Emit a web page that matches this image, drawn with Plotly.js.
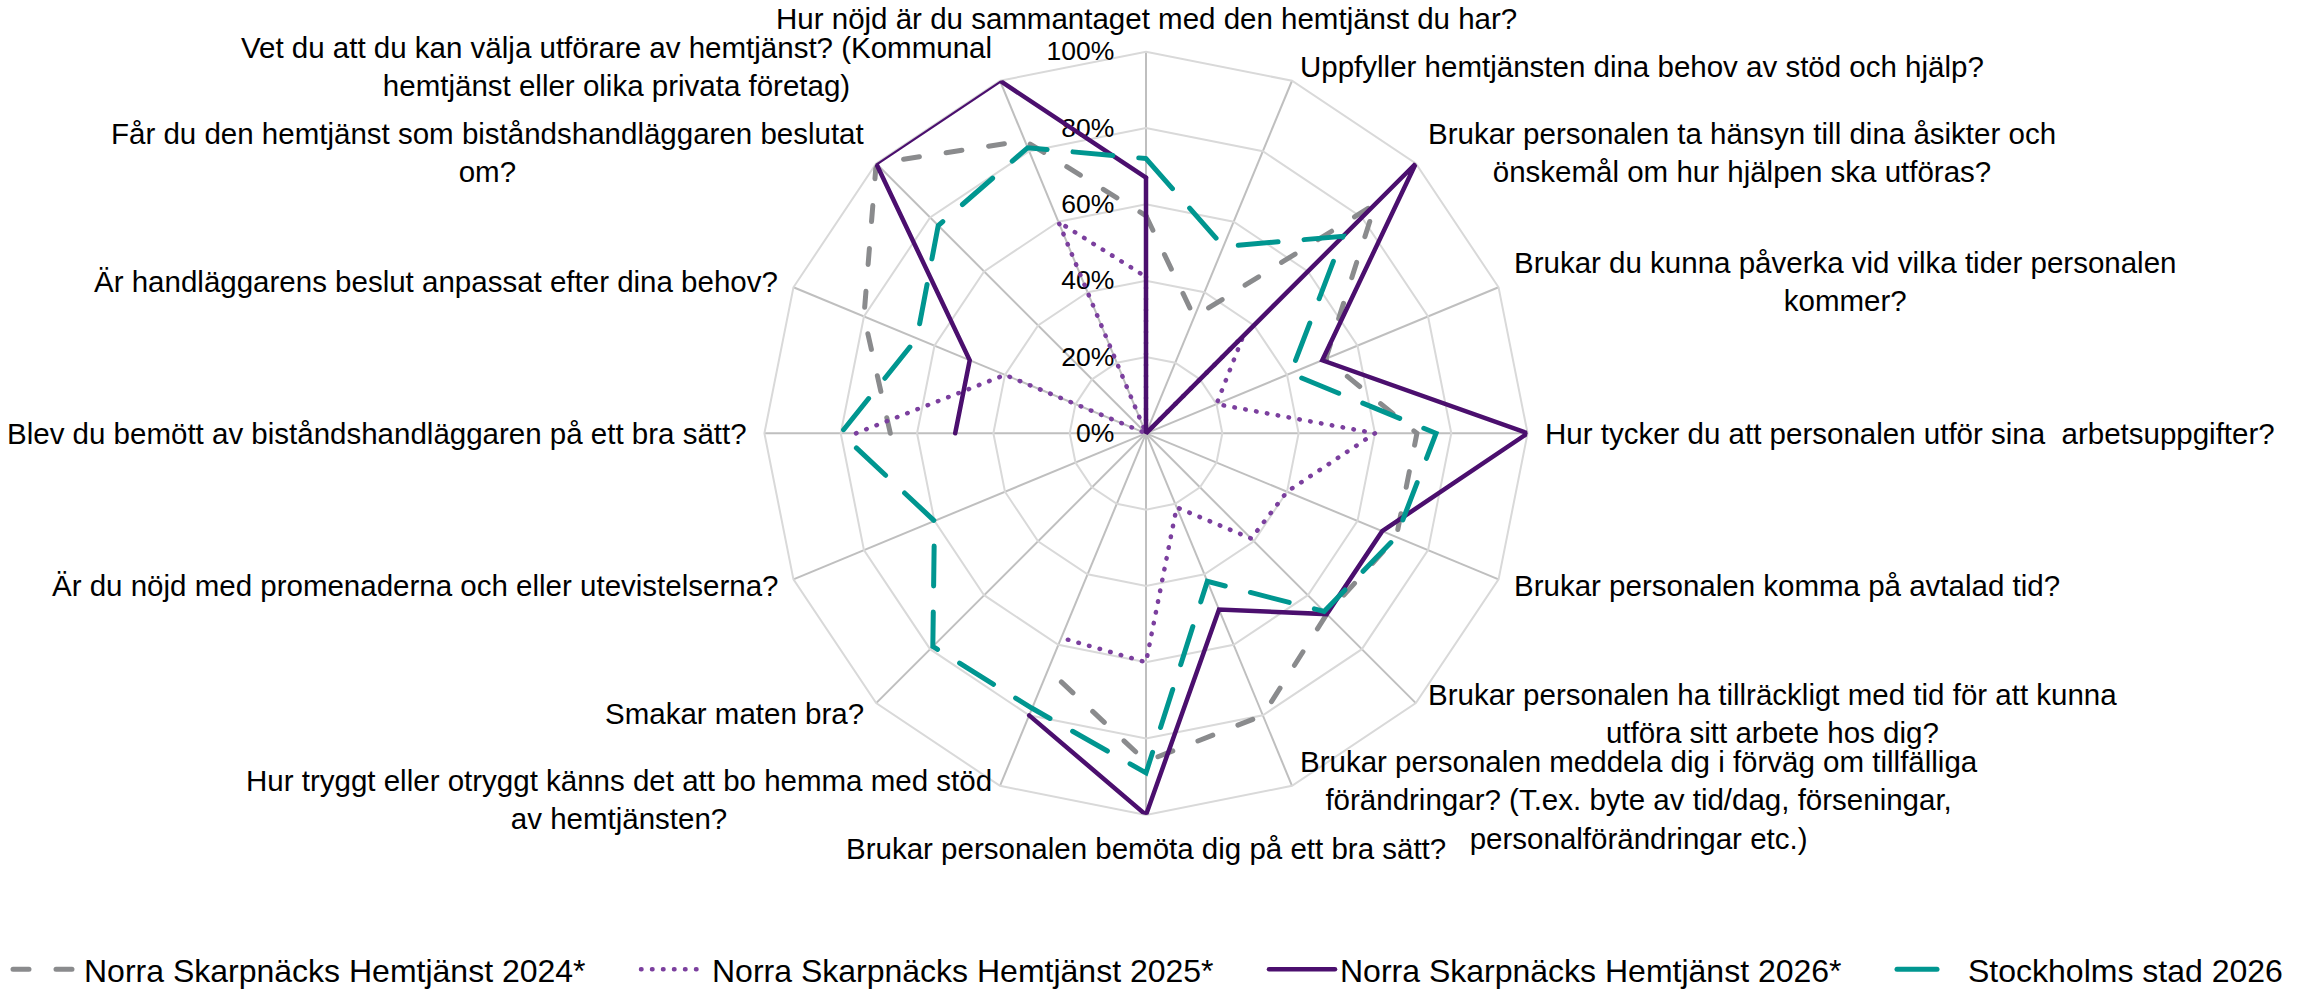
<!DOCTYPE html>
<html><head><meta charset="utf-8">
<script src="https://cdn.plot.ly/plotly-3.0.1.min.js"></script>
<style>
html,body{margin:0;padding:0;background:#fff;}
#chart{width:2303px;height:997px;}
.js-line{stroke-linecap:round;}
</style></head>
<body><div id="chart"></div>
<script>
const categories = [
  "Hur nöjd är du sammantaget med den hemtjänst du har?",
  "Uppfyller hemtjänsten dina behov av stöd och hjälp?",
  "Brukar personalen ta hänsyn till dina åsikter och önskemål om hur hjälpen ska utföras?",
  "Brukar du kunna påverka vid vilka tider personalen kommer?",
  "Hur tycker du att personalen utför sina  arbetsuppgifter?",
  "Brukar personalen komma på avtalad tid?",
  "Brukar personalen ha tillräckligt med tid för att kunna utföra sitt arbete hos dig?",
  "Brukar personalen meddela dig i förväg om tillfälliga förändringar? (T.ex. byte av tid/dag, förseningar, personalförändringar etc.)",
  "Brukar personalen bemöta dig på ett bra sätt?",
  "Hur tryggt eller otryggt känns det att bo hemma med stöd av hemtjänsten?",
  "Smakar maten bra?",
  "Är du nöjd med promenaderna och eller utevistelserna?",
  "Blev du bemött av biståndshandläggaren på ett bra sätt?",
  "Är handläggarens beslut anpassat efter dina behov?",
  "Får du den hemtjänst som biståndshandläggaren beslutat om?",
  "Vet du att du kan välja utförare av hemtjänst? (Kommunal hemtjänst eller olika privata företag)"
];
const tickLabels = [
  "Hur nöjd är du sammantaget med den hemtjänst du har?",
  "Uppfyller hemtjänsten dina behov av stöd och hjälp?",
  "Brukar personalen ta hänsyn till dina åsikter och<br>önskemål om hur hjälpen ska utföras?",
  "Brukar du kunna påverka vid vilka tider personalen<br>kommer?",
  "Hur tycker du att personalen utför sina\u00a0 arbetsuppgifter?",
  "Brukar personalen komma på avtalad tid?",
  "Brukar personalen ha tillräckligt med tid för att kunna<br>utföra sitt arbete hos dig?",
  "Brukar personalen meddela dig i förväg om tillfälliga<br>förändringar? (T.ex. byte av tid/dag, förseningar,<br>personalförändringar etc.)",
  "Brukar personalen bemöta dig på ett bra sätt?",
  "Hur tryggt eller otryggt känns det att bo hemma med stöd<br>av hemtjänsten?",
  "Smakar maten bra?",
  "Är du nöjd med promenaderna och eller utevistelserna?",
  "Blev du bemött av biståndshandläggaren på ett bra sätt?",
  "Är handläggarens beslut anpassat efter dina behov?",
  "Får du den hemtjänst som biståndshandläggaren beslutat<br>om?",
  "Vet du att du kan välja utförare av hemtjänst? (Kommunal<br>hemtjänst eller olika privata företag)"
];
const seriesNames = [
  "Norra Skarpnäcks Hemtjänst 2024*",
  "Norra Skarpnäcks Hemtjänst 2025*",
  "Norra Skarpnäcks Hemtjänst 2026*",
  "Stockholms stad 2026"
];
const values2024 = [57, 33, 85, 51, 71, 71, 67, 80, 86, 67, null, null, 67, 80, 100, 83];
const values2025 = [41, 0, 36, 20, 60, 40, 39, 21, 60, 58, null, null, 76, 40, 0, 60];
const values2026 = [67, 0, 100, 50, 100, 67, 67, 50, 100, 80, null, null, 50, 50, 100, 100];
const valuesStockholm = [72, 53, 73, 41, 76, 71, 66, 42, 89, 78, 79, 60, 80, 65, 77, 81];
const radialTicks = [0, 20, 40, 60, 80, 100];

const W = 2303, H = 997;
const CX = 1146, CY = 433.3, R = 381.6, GAP = 15;
const FONT = "Liberation Sans, Arial, sans-serif";

function closed(a) { return a.concat([a[0]]); }
const theta = closed(categories);

const styles = [
  {color: '#8a8b8d', width: 5, dash: '16px,27px'},
  {color: '#7b3f9e', width: 4.5, dash: '0.5px,10.5px'},
  {color: '#4b0f6e', width: 4.5, dash: 'solid'},
  {color: '#009690', width: 5, dash: '40px,26px'}
];
const allValues = [values2024, values2025, values2026, valuesStockholm];
const legendIds = ['legend', 'legend2', 'legend3', 'legend4'];

const traces = allValues.map((v, i) => ({
  type: 'scatterpolar',
  mode: 'lines',
  r: closed(v),
  theta: theta,
  name: seriesNames[i],
  legend: legendIds[i],
  connectgaps: false,
  line: styles[i],
  hoverinfo: 'skip'
}));

const n = categories.length;
const annotations = tickLabels.map((t, k) => {
  const a = k * 2 * Math.PI / n;
  const s = Math.sin(a), c = Math.cos(a);
  const px = CX + (R + GAP) * s, py = CY - (R + GAP) * c;
  return {
    text: t, x: px / W, y: 1 - py / H, xref: 'paper', yref: 'paper',
    showarrow: false,
    xanchor: s > 0.1 ? 'left' : (s < -0.1 ? 'right' : 'center'),
    yanchor: c > 0.99 ? 'bottom' : (c < -0.99 ? 'top' : 'middle'),
    align: 'center',
    font: {family: FONT, size: 29.5, color: '#000'}
  };
});

const layout = {
  width: W, height: H,
  margin: {l: 0, r: 0, t: 0, b: 0},
  paper_bgcolor: '#fff',
  font: {family: FONT, color: '#000'},
  showlegend: true,
  polar: {
    domain: {x: [(CX - R) / W, (CX + R) / W], y: [1 - (CY + R) / H, 1 - (CY - R) / H]},
    gridshape: 'linear',
    bgcolor: 'rgba(0,0,0,0)',
    angularaxis: {
      type: 'category', categoryorder: 'array', categoryarray: categories,
      rotation: 90, direction: 'clockwise',
      showticklabels: false, ticks: '',
      showgrid: true, gridcolor: '#bfbfbf', gridwidth: 2,
      showline: true, linecolor: '#d9d9d9', linewidth: 2,
      layer: 'below traces'
    },
    radialaxis: {
      range: [0, 100], tickvals: radialTicks, ticktext: radialTicks.map(v => v + '%'),
      angle: 90, side: 'counterclockwise', tickangle: 90,
      showline: false, ticks: 'outside', ticklen: 22, tickcolor: 'rgba(0,0,0,0)',
      showgrid: true, gridcolor: '#d9d9d9', gridwidth: 2,
      tickfont: {family: FONT, size: 26.5, color: '#000'},
      layer: 'below traces'
    }
  },
  annotations: annotations
};

legendIds.forEach((id, i) => {
  layout[id] = {
    orientation: 'h', x: (8 + i * 628) / W, xanchor: 'left', y: 0, yanchor: 'bottom',
    itemwidth: 66,
    font: {family: FONT, size: 32, color: '#000'},
    bgcolor: 'rgba(0,0,0,0)'
  };
});

Plotly.newPlot('chart', traces, layout, {displayModeBar: false, staticPlot: true});
</script>
</body></html>
